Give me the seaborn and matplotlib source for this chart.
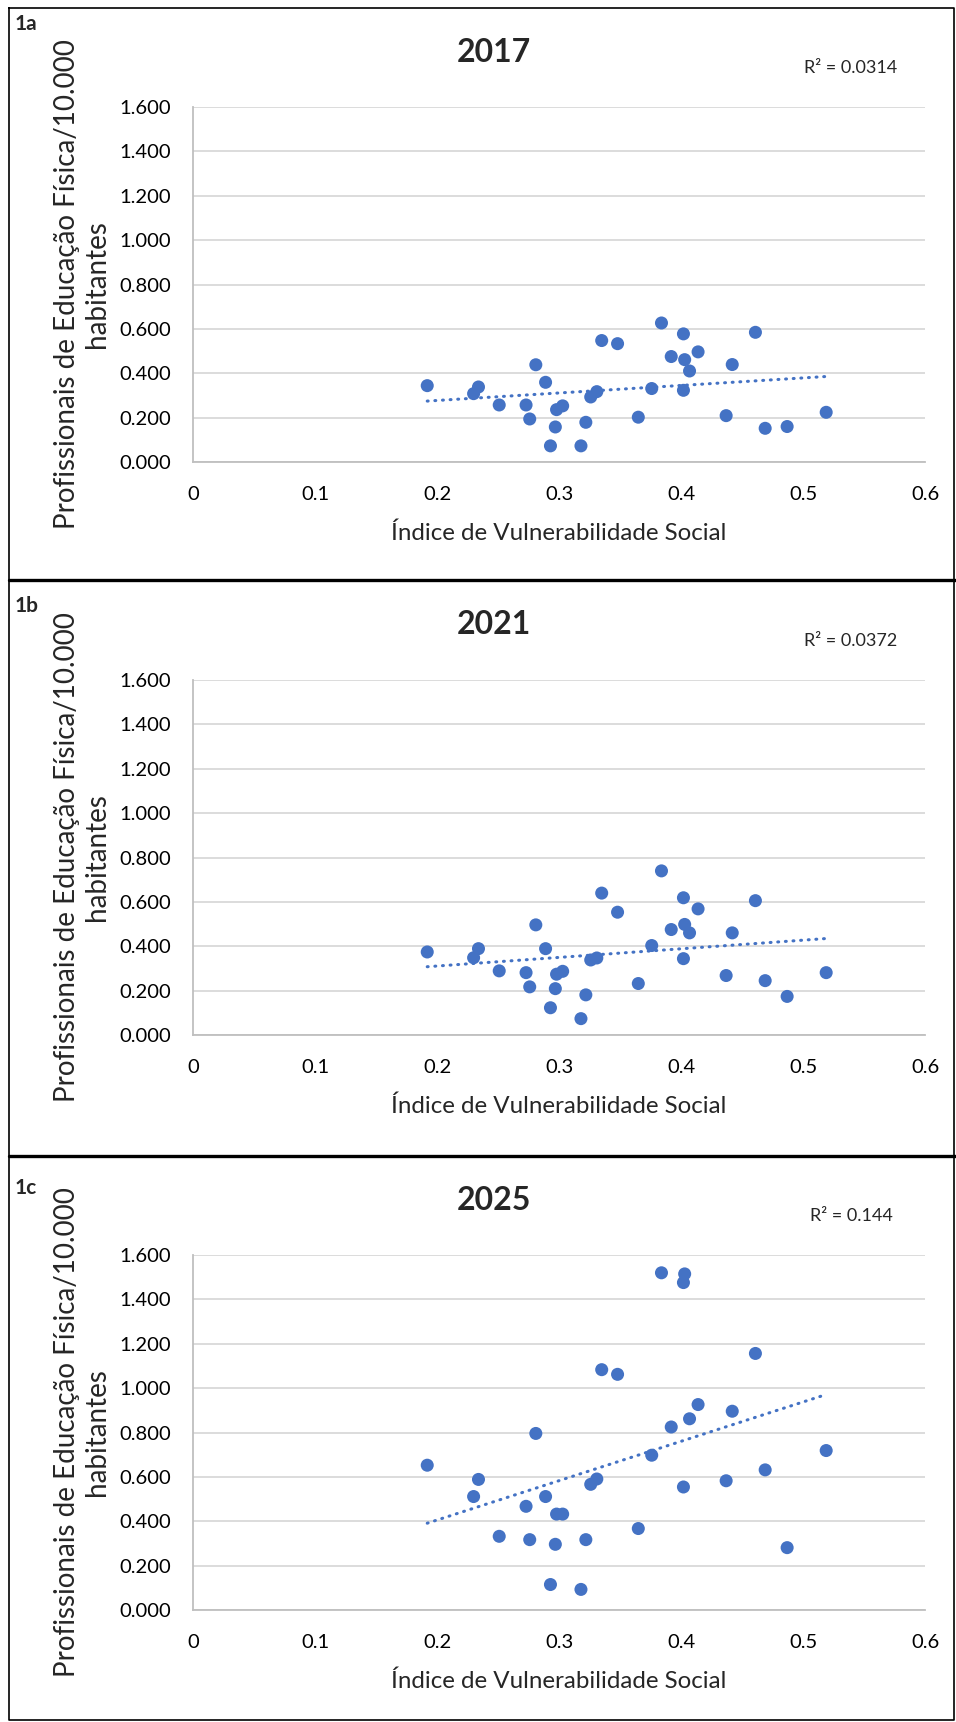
import numpy as np
import pandas as pd
import matplotlib
matplotlib.use('Agg')
import matplotlib.pyplot as plt
import seaborn as sns
from matplotlib.lines import Line2D

# dados (IVS x profissionais / 10.000 hab.)
ivs = [0.192, 0.234, 0.230, 0.251, 0.281, 0.273, 0.276, 0.289, 0.293, 0.297, 0.298,
       0.303, 0.318, 0.322, 0.326, 0.331, 0.335, 0.348, 0.365, 0.376, 0.384, 0.392,
       0.402, 0.403, 0.402, 0.407, 0.414, 0.437, 0.442, 0.461, 0.469, 0.487, 0.519]

y2017 = [0.345, 0.339, 0.309, 0.258, 0.439, 0.258, 0.195, 0.360, 0.074, 0.159, 0.237,
         0.254, 0.074, 0.180, 0.294, 0.318, 0.548, 0.534, 0.203, 0.332, 0.627, 0.476,
         0.578, 0.462, 0.324, 0.411, 0.497, 0.210, 0.440, 0.585, 0.153, 0.161, 0.225]
y2021 = [0.375, 0.390, 0.349, 0.290, 0.497, 0.282, 0.218, 0.390, 0.124, 0.210, 0.275,
         0.288, 0.075, 0.182, 0.339, 0.348, 0.640, 0.554, 0.233, 0.404, 0.740, 0.476,
         0.619, 0.499, 0.345, 0.461, 0.569, 0.269, 0.461, 0.606, 0.246, 0.175, 0.282]
y2025 = [0.653, 0.589, 0.512, 0.333, 0.796, 0.468, 0.318, 0.512, 0.116, 0.297, 0.433,
         0.433, 0.094, 0.318, 0.567, 0.591, 1.083, 1.062, 0.368, 0.698, 1.519, 0.825,
         1.475, 1.514, 0.555, 0.862, 0.926, 0.583, 0.896, 1.156, 0.632, 0.282, 0.719]

anos = ['2017', '2021', '2025']
paineis = ['1a', '1b', '1c']
r2_textos = ['R² = 0.0314', 'R² = 0.0372', 'R² = 0.144']
yticks = [0.0, 0.2, 0.4, 0.6, 0.8, 1.0, 1.2, 1.4, 1.6]
ytick_labels = ['0.000', '0.200', '0.400', '0.600', '0.800', '1.000', '1.200', '1.400', '1.600']
xticks = [0, 0.1, 0.2, 0.3, 0.4, 0.5, 0.6]
xtick_labels = ['0', '0.1', '0.2', '0.3', '0.4', '0.5', '0.6']

sns.set_theme(style='white')
plt.rcParams['font.family'] = ['Lato', 'DejaVu Sans']

W, H = 956, 1722
fig = plt.figure(figsize=(W / 100, H / 100), dpi=100)

def fx(px):
    return px / W

def fy(py):
    return 1 - py / H

azul = '#4472C4'
cinza = '#BFBFBF'

# moldura e separadores
fig.add_artist(Line2D([fx(9), fx(954), fx(954), fx(9), fx(9)],
                      [fy(8), fy(8), fy(1720), fy(1720), fy(8)],
                      transform=fig.transFigure, color='black', lw=1.2))
for sep in [580, 1156]:
    fig.add_artist(Line2D([fx(9), fx(956)], [fy(sep), fy(sep)],
                          transform=fig.transFigure, color='black', lw=2.4))

offsets = [0, 573, 1148]
rotulo_y = [24, 606, 1188]
series = [y2017, y2021, y2025]

for i, (ano, ys) in enumerate(zip(anos, series)):
    off = offsets[i]
    top, bottom = 106.8 + off, 462.3 + off
    ax = fig.add_axes([fx(193), fy(bottom), fx(925) - fx(193), (bottom - top) / H])
    df = pd.DataFrame({'ivs': ivs, 'prof': ys})

    sns.regplot(data=df, x='ivs', y='prof', ax=ax, scatter=False, ci=None, truncate=True,
                line_kws={'color': azul, 'lw': 2.2, 'linestyle': (0, (0.3, 2.2)),
                          'dash_capstyle': 'round', 'zorder': 2})
    sns.scatterplot(data=df, x='ivs', y='prof', ax=ax, color=azul, s=88,
                    edgecolor='none', zorder=3)

    ax.set_xlim(0, 0.6)
    ax.set_ylim(0, 1.6)
    ax.set_xticks(xticks)
    ax.set_xticklabels(xtick_labels)
    ax.set_yticks(yticks)
    ax.set_yticklabels(ytick_labels)
    ax.set_xlabel('')
    ax.set_ylabel('')
    ax.grid(axis='y', color='#D9D9D9', lw=1.3)
    ax.set_axisbelow(True)
    for s in ['top', 'right']:
        ax.spines[s].set_visible(False)
    for s in ['left', 'bottom']:
        ax.spines[s].set_color(cinza)
        ax.spines[s].set_linewidth(1.3)
    ax.tick_params(axis='both', direction='out', length=5, width=1.2, color=cinza,
                   labelsize=14.5, labelcolor='black')
    ax.tick_params(axis='x', pad=12)
    ax.tick_params(axis='y', pad=11)

    fig.text(fx(559), fy(533 + off), 'Índice de Vulnerabilidade Social',
             ha='center', va='center', fontsize=17.4)
    fig.text(fx(82), fy(284.5 + off), 'Profissionais de Educação Física/10.000\nhabitantes',
             rotation=90, ha='center', va='center', multialignment='center',
             fontsize=20, linespacing=1.15)
    fig.text(fx(494), fy(52 + off), ano, ha='center', va='center',
             fontsize=23, fontweight='bold')
    fig.text(fx(851), fy(68 + off), r2_textos[i], ha='center', va='center', fontsize=13)
    fig.text(fx(15), fy(rotulo_y[i]), paineis[i], ha='left', va='center',
             fontsize=15, fontweight='bold')

fig.savefig('out.png', dpi=100)
